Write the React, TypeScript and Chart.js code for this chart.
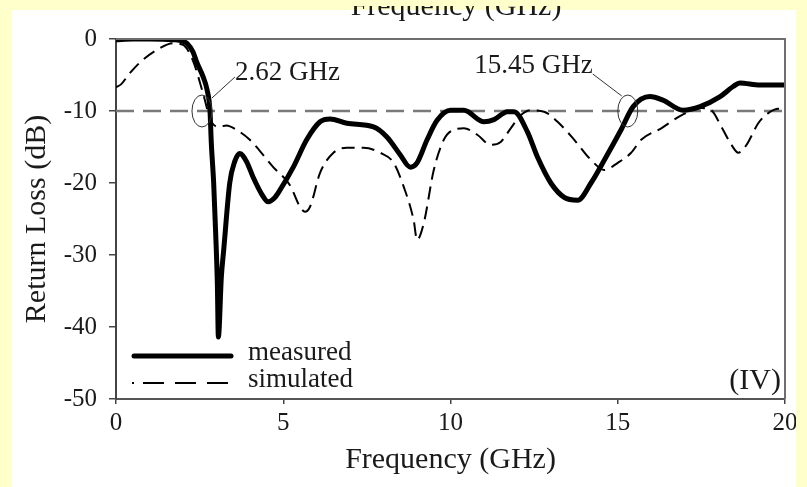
import React, { useEffect, useRef } from "react";
import { Chart, registerables } from "chart.js";

Chart.register(...registerables);

// ---------- data ----------
const measuredFreq = [
  0, 0.5, 1.0, 1.7, 2.0, 2.12, 2.3, 2.42, 2.6, 2.72, 2.81, 2.85, 2.92, 2.98, 3.03, 3.06,
  3.15, 3.22, 3.4, 3.55, 3.7, 3.9, 4.1, 4.35, 4.55, 4.75, 4.9, 5.3, 5.7, 6.1, 6.4, 6.9,
  7.7, 8.1, 8.5, 8.8, 9.0, 9.3, 9.6, 10.0, 10.4, 11.0, 11.3, 11.7, 11.9, 12.3, 12.6, 13.0,
  13.4, 13.8, 14.2, 14.6, 15.1, 15.46, 15.96, 16.35, 16.95, 17.46, 18.06, 18.45, 18.65,
  19.25, 20,
];
const measuredDb = [
  -0.1, 0, 0, -0.1, -0.3, -0.6, -1.8, -3.3, -5.2, -7, -10, -14.5, -20, -27, -34, -41.4,
  -33, -29.3, -20, -17, -15.9, -17, -19.2, -21.5, -22.6, -22, -21, -17.8, -14, -11.5, -11.1, -11.7,
  -12.2, -13.6, -16.1, -17.8, -17.2, -14, -11.3, -9.9, -9.9, -11.5, -11.2, -10.1, -10.1, -12.9, -16.4, -20,
  -22, -22.4, -20, -16.8, -12.6, -9.4, -8.0, -8.5, -9.9, -9.4, -8.0, -6.6, -6.1,
  -6.4, -6.4,
];
const simulatedFreq = [
  0, 0.15, 0.42, 0.8, 1.3, 1.7, 2.0, 2.3, 2.6, 2.85, 3.1, 3.3, 3.6, 4.0, 4.7, 5.2, 5.5,
  5.65, 5.8, 6.1, 6.5, 6.9, 7.4, 7.9, 8.3, 8.6, 8.9, 9.0, 9.2, 9.5, 9.8, 10.1, 10.4, 10.8,
  11.2, 11.5, 11.8, 12.1, 12.4, 12.8, 13.2, 13.7, 14.2, 14.6, 15.0, 15.4, 15.7, 16.3, 16.9,
  17.5, 17.8, 18.1, 18.4, 18.6, 18.85, 19.2, 19.5, 19.8, 20,
];
const simulatedDb = [
  -6.7, -6.3, -4.7, -2.9, -1.3, -0.6, -0.8, -3, -7.5, -11.5, -12.2, -12, -12.6, -14, -17.8, -20.3, -23.3,
  -24, -23.3, -18.6, -15.8, -15.1, -15.1, -15.8, -17.2, -20.5, -25.2, -27.9, -25.6, -18.2, -14, -12.6, -12.4, -13.3,
  -14.7, -14.3, -12.4, -10.6, -9.9, -10.1, -11.5, -14, -16.8, -18.2, -17.2, -15.8, -14, -12.4, -10.6,
  -9.6, -9.9, -12.2, -14.7, -15.8, -14.7, -11.7, -10.3, -9.7, -9.7,
];
const referenceFreq = [0, 20];
const referenceDb = [-10, -10];

const xTickValues = [0, 5, 10, 15, 20];
const yTickValues = [0, -10, -20, -30, -40, -50];

const markerFreqs = [2.57, 15.3];
const markerLevels = [-10, -10];
const markerLabels = ["2.62 GHz", "15.45 GHz"];

const seriesLabels = ["measured", "simulated"];
const panelLabel = "(IV)";
const xTitle = "Frequency (GHz)";
const yTitle = "Return Loss (dB)";

// ---------- styling ----------
const SERIF = '"Liberation Serif", "Times New Roman", Times, serif';
const INK = "#1a1a1a";
const YELLOW = "#FFFFCC";

// label placement relative to each marker (pixels): leader start, leader end, text anchor
const markerLayout = [
  { lx0: 10, ly0: -13, lx1: 33, ly1: -34, tx: 33, ty: -31, align: "left" as CanvasTextAlign },
  { lx0: -6, ly0: -15, lx1: -35, ly1: -37, tx: -35, ty: -38, align: "right" as CanvasTextAlign },
];

const decorPlugin = {
  id: "decor",
  beforeDraw(chart: any) {
    const { ctx, width, height } = chart;
    ctx.save();
    ctx.fillStyle = "#ffffff";
    ctx.fillRect(0, 0, width, height);
    ctx.restore();
  },
  afterDatasetsDraw(chart: any) {
    const { ctx, chartArea: a, scales } = chart;
    const xs = scales.x;
    const ys = scales.y;
    ctx.save();
    // top & right frame
    ctx.strokeStyle = "#6e6e6e";
    ctx.lineWidth = 2;
    ctx.beginPath();
    ctx.moveTo(a.left, a.top);
    ctx.lineTo(a.right, a.top);
    ctx.lineTo(a.right, a.bottom);
    ctx.stroke();

    // markers
    ctx.font = `27px ${SERIF}`;
    ctx.fillStyle = INK;
    ctx.textBaseline = "alphabetic";
    markerFreqs.forEach((f, i) => {
      const cx = xs.getPixelForValue(f);
      const cy = ys.getPixelForValue(markerLevels[i]);
      const L = markerLayout[i];
      ctx.strokeStyle = "#333";
      ctx.lineWidth = 1;
      ctx.beginPath();
      ctx.ellipse(cx, cy, 10, 16, 0, 0, Math.PI * 2);
      ctx.stroke();
      ctx.beginPath();
      ctx.moveTo(cx + L.lx0, cy + L.ly0);
      ctx.lineTo(cx + L.lx1, cy + L.ly1);
      ctx.stroke();
      ctx.textAlign = L.align;
      ctx.fillText(markerLabels[i], cx + L.tx, cy + L.ty);
    });

    // legend
    const ds = chart.data.datasets;
    const lx = a.left + 16;
    const rows = [a.bottom - 43, a.bottom - 16];
    ctx.textAlign = "left";
    ctx.textBaseline = "middle";
    ctx.font = `27px ${SERIF}`;
    [0, 1].forEach((k) => {
      const d = ds[k];
      const yy = rows[k];
      ctx.strokeStyle = d.borderColor;
      ctx.lineWidth = d.borderWidth;
      ctx.lineCap = k === 0 ? "round" : "butt";
      ctx.beginPath();
      if (k === 1) {
        ctx.setLineDash([]);
        ctx.moveTo(lx, yy);
        ctx.lineTo(lx + 2, yy);
        ctx.stroke();
        ctx.setLineDash([21, 11]);
        ctx.beginPath();
        ctx.moveTo(lx + 11, yy);
        ctx.lineTo(lx + 101, yy);
      } else {
        ctx.setLineDash([]);
        ctx.moveTo(lx + 2, yy);
        ctx.lineTo(lx + 99, yy);
      }
      ctx.stroke();
      ctx.setLineDash([]);
      ctx.fillStyle = INK;
      ctx.fillText(seriesLabels[k], lx + 116, yy - 3);
    });

    // panel label
    ctx.textAlign = "right";
    ctx.textBaseline = "alphabetic";
    ctx.font = `30px ${SERIF}`;
    ctx.fillText(panelLabel, a.right - 4, a.bottom - 10);
    ctx.restore();
  },
  afterDraw(chart: any) {
    const { ctx, width, height } = chart;
    ctx.save();
    // yellow page frame
    ctx.fillStyle = YELLOW;
    ctx.fillRect(0, 0, width, 10);
    ctx.fillRect(0, 0, 12, height);
    ctx.fillRect(796, 0, width - 796, height);
    // cut-off title of the panel above
    ctx.beginPath();
    ctx.rect(0, 6, width, height);
    ctx.clip();
    ctx.font = `30px ${SERIF}`;
    ctx.fillStyle = INK;
    ctx.textAlign = "center";
    ctx.textBaseline = "alphabetic";
    ctx.fillText(xTitle, 456, 15);
    ctx.restore();
  },
};

export default function App() {
  const ref = useRef<HTMLCanvasElement | null>(null);

  useEffect(() => {
    if (!ref.current) return;
    const toPts = (xs: number[], ys: number[]) => xs.map((x, i) => ({ x, y: ys[i] }));
    const chart = new Chart(ref.current, {
      type: "line",
      data: {
        datasets: [
          {
            label: seriesLabels[0],
            data: toPts(measuredFreq, measuredDb),
            borderColor: "#000000",
            borderWidth: 5,
            pointRadius: 0,
            cubicInterpolationMode: "monotone",
            borderJoinStyle: "round",
            borderCapStyle: "round",
            fill: false,
          },
          {
            label: seriesLabels[1],
            data: toPts(simulatedFreq, simulatedDb),
            borderColor: "#000000",
            borderWidth: 2,
            borderDash: [13, 7],
            pointRadius: 0,
            cubicInterpolationMode: "monotone",
            fill: false,
          },
          {
            label: "-10 dB",
            data: toPts(referenceFreq, referenceDb),
            borderColor: "#7a7a7a",
            borderWidth: 2.5,
            borderDash: [18, 9],
            pointRadius: 0,
            fill: false,
          },
        ] as any,
      },
      options: {
        responsive: false,
        maintainAspectRatio: false,
        devicePixelRatio: 1,
        animation: false,
        layout: { padding: { top: 39, right: 22, bottom: 0, left: 0 } },
        plugins: { legend: { display: false }, tooltip: { enabled: false } },
        scales: {
          x: {
            type: "linear",
            min: 0,
            max: 20,
            afterBuildTicks: (s: any) => {
              s.ticks = xTickValues.map((v) => ({ value: v }));
            },
            afterFit: (s: any) => {
              s.height = 88;
            },
            grid: { drawOnChartArea: false, drawTicks: true, tickLength: 5, color: "#444", lineWidth: 1.5 },
            border: { display: true, color: "#555", width: 2 },
            ticks: {
              color: INK,
              padding: 4,
              maxRotation: 0,
              font: { family: SERIF, size: 25 },
              callback: (v: any) => String(v),
            },
            title: {
              display: true,
              text: xTitle,
              color: INK,
              font: { family: SERIF, size: 30 },
              padding: { top: 0, bottom: 9 },
            },
          },
          y: {
            type: "linear",
            min: -50,
            max: 0,
            afterBuildTicks: (s: any) => {
              s.ticks = yTickValues.map((v) => ({ value: v }));
            },
            afterFit: (s: any) => {
              s.width = 116;
            },
            grid: { drawOnChartArea: false, drawTicks: true, tickLength: 7, color: "#444", lineWidth: 1.5 },
            border: { display: true, color: "#444", width: 2 },
            ticks: {
              color: INK,
              padding: 12,
              font: { family: SERIF, size: 25 },
              callback: (v: any) => String(v),
            },
            title: {
              display: true,
              text: yTitle,
              color: INK,
              font: { family: SERIF, size: 30 },
              padding: { top: 19, bottom: 0 },
            },
          },
        },
      },
      plugins: [decorPlugin],
    });
    return () => chart.destroy();
  }, []);

  return (
    <div style={{ position: "fixed", left: 0, top: 0, width: 807, height: 487, background: YELLOW }}>
      <canvas ref={ref} width={807} height={487} style={{ display: "block", width: 807, height: 487 }} />
    </div>
  );
}
